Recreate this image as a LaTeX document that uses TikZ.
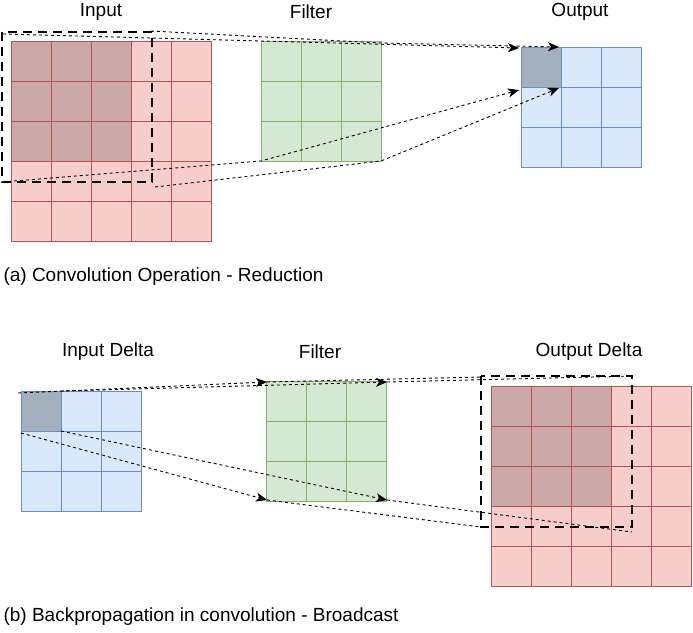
\documentclass[tikz,border=0pt]{standalone}
\usepackage{fontspec}
\setmainfont{Liberation Sans}
\usetikzlibrary{arrows.meta}
\definecolor{redfill}{HTML}{F8CECC}
\definecolor{redline}{HTML}{B85450}
\definecolor{darkfill}{HTML}{CDA8A8}
\definecolor{bluefill}{HTML}{DAE8FC}
\definecolor{blueline}{HTML}{6C8EBF}
\definecolor{greyfill}{HTML}{A3AFBD}
\definecolor{greenfill}{HTML}{D5E8D4}
\definecolor{greenline}{HTML}{82B366}

\begin{document}
\begin{tikzpicture}[x=1pt,y=-1pt,
    redcell/.style={draw=redline,fill=redfill,line width=0.9pt},
    darkcell/.style={draw=redline,fill=darkfill,line width=0.9pt},
    bluecell/.style={draw=blueline,fill=bluefill,line width=0.9pt},
    greycell/.style={draw=blueline,fill=greyfill,line width=0.9pt},
    greencell/.style={draw=greenline,fill=greenfill,line width=0.9pt},
    window/.style={draw=black,line width=2.6pt,dash pattern=on 9pt off 6pt},
    link/.style={draw=black,line width=0.9pt,dash pattern=on 3pt off 3pt},
    tip/.style={-{Stealth[length=11pt,width=9pt,inset=3pt]}},
    lbl/.style={font=\fontsize{19}{22}\selectfont}]
    \useasboundingbox (0,0) rectangle (693,632);

    % (a) convolution
    \foreach \i in {0,...,4}
        \foreach \j in {0,...,4}
            \draw[redcell] ({11+40*\i},{41+40*\j}) rectangle ++(40,40);
    \foreach \i in {0,...,2}
        \foreach \j in {0,...,2}
            \draw[darkcell] ({11+40*\i},{41+40*\j}) rectangle ++(40,40);
    \foreach \i in {0,...,2}
        \foreach \j in {0,...,2}
            \draw[greencell] ({261+40*\i},{41+40*\j}) rectangle ++(40,40);
    \foreach \i in {0,...,2}
        \foreach \j in {0,...,2}
            \draw[bluecell] ({521+40*\i},{47+40*\j}) rectangle ++(40,40);
    \draw[greycell] (521,47) rectangle ++(40,40);

    \node[lbl] (input) at (101,12) {Input};
    \node[lbl] (filtera) at (311,12) {Filter};
    \node[lbl] (output) at (580,12) {Output};
    \node[lbl,anchor=west] (capa) at (0,277) {(a) Convolution Operation - Reduction};

    \coordinate (inTL) at (3,34);
    \coordinate (inTR) at (151,31);
    \coordinate (inBL) at (2,182);
    \coordinate (inBR) at (155,187);
    \coordinate (fTL) at (261,41);
    \coordinate (fTR) at (381,43);
    \coordinate (fBL) at (261,161);
    \coordinate (fBR) at (381,161);
    \coordinate (oTL) at (519,48);
    \coordinate (oTR) at (559,47);
    \coordinate (oBL) at (519,90);
    \coordinate (oBR) at (559,88);
    \draw[link,tip] (inTL) -- (fTL) -- (oTL);
    \draw[link,tip] (inTR) -- (fTR) -- (oTR);
    \draw[link,tip] (inBL) -- (fBL) -- (oBL);
    \draw[link,tip] (inBR) -- (fBR) -- (oBR);
    \draw[window] (2,32) rectangle (152,182);

    % (b) backpropagation
    \foreach \i in {0,...,2}
        \foreach \j in {0,...,2}
            \draw[bluecell] ({21+40*\i},{391+40*\j}) rectangle ++(40,40);
    \draw[greycell] (21,391) rectangle ++(40,40);
    \foreach \i in {0,...,2}
        \foreach \j in {0,...,2}
            \draw[greencell] ({266+40*\i},{381+40*\j}) rectangle ++(40,40);
    \foreach \i in {0,...,4}
        \foreach \j in {0,...,4}
            \draw[redcell] ({491+40*\i},{386+40*\j}) rectangle ++(40,40);
    \foreach \i in {0,...,2}
        \foreach \j in {0,...,2}
            \draw[darkcell] ({491+40*\i},{386+40*\j}) rectangle ++(40,40);

    \node[lbl] (indelta) at (108,352) {Input Delta};
    \node[lbl] (filterb) at (320,352) {Filter};
    \node[lbl] (outdelta) at (589,352) {Output Delta};
    \node[lbl,anchor=west] (capb) at (0,617) {(b) Backpropagation in convolution - Broadcast};

    \coordinate (dTL) at (18,393);
    \coordinate (dTR) at (61,391);
    \coordinate (dBL) at (21,433);
    \coordinate (dBR) at (61,431);
    \coordinate (gTL) at (267,382);
    \coordinate (gTR) at (387,382);
    \coordinate (gBL) at (267,500);
    \coordinate (gBR) at (387,500);
    \coordinate (wTL) at (481,377);
    \coordinate (wTR) at (632,376);
    \coordinate (wBL) at (481,527);
    \coordinate (wBR) at (632,532);
    \draw[link,tip] (dTL) -- (gTL);
    \draw[link,tip] (dTR) -- (gTR);
    \draw[link,tip] (dBL) -- (gBL);
    \draw[link,tip] (dBR) -- (gBR);
    \draw[link] (gTL) -- (wTL);
    \draw[link] (gTR) -- (wTR);
    \draw[link] (gBL) -- (wBL);
    \draw[link] (gBR) -- (wBR);
    \draw[window] (481,376) rectangle (632,527);
\end{tikzpicture}
\end{document}
